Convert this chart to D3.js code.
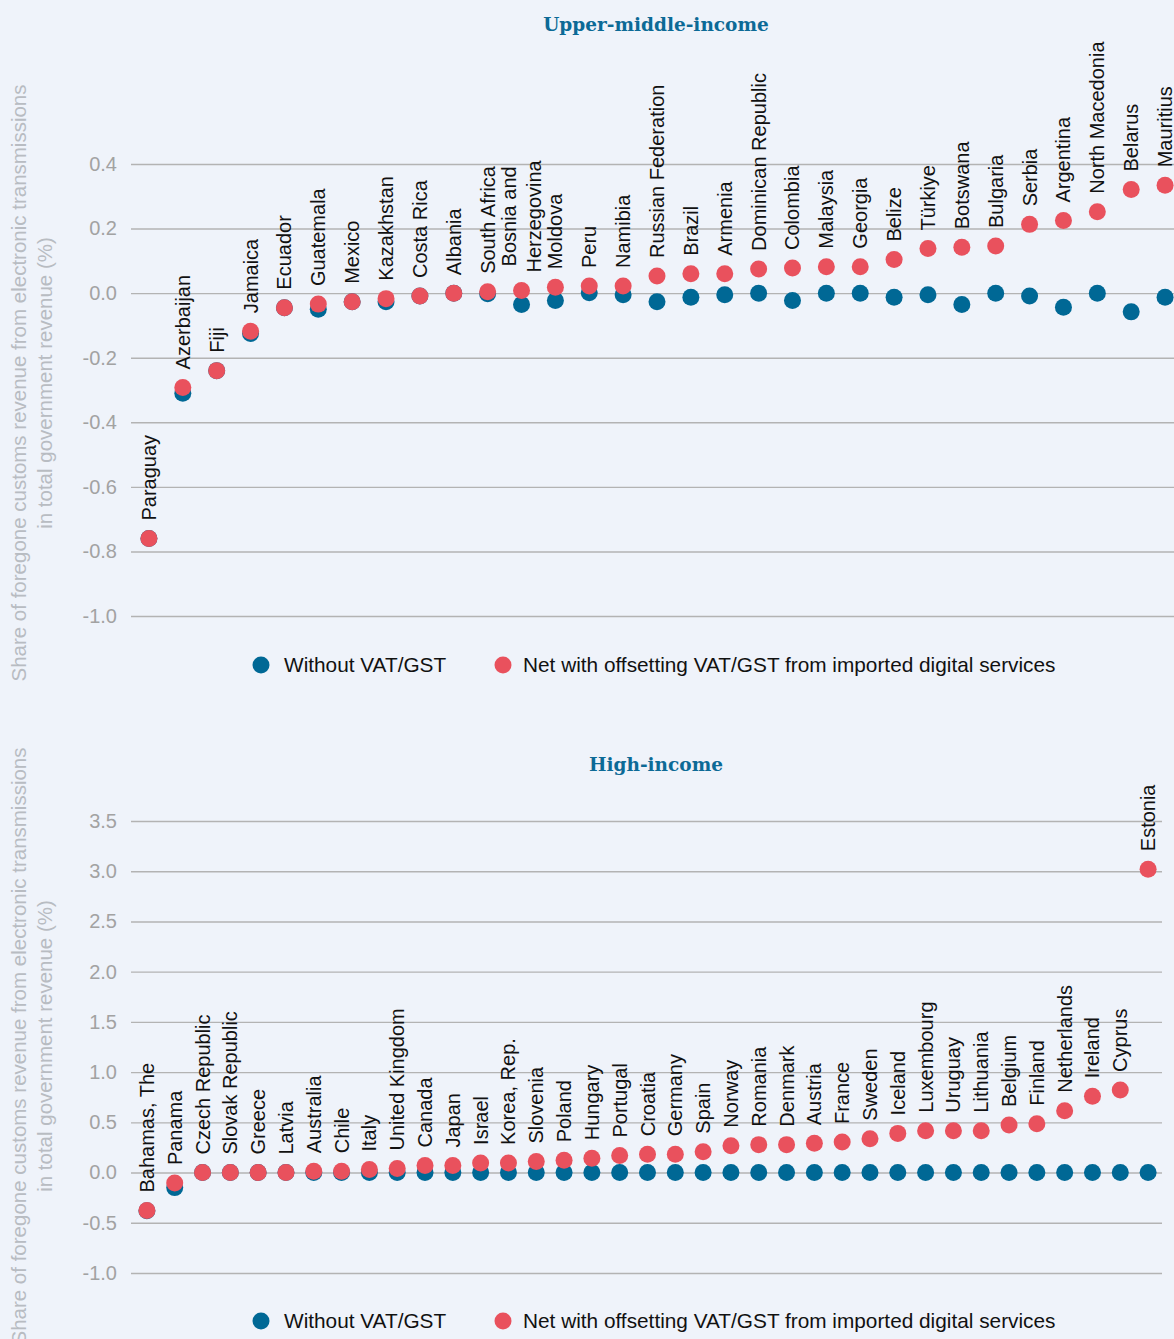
<!DOCTYPE html>
<html>
<head>
<meta charset="utf-8">
<script src="https://cdn.jsdelivr.net/npm/d3@7"></script>
<style>
  html, body { margin: 0; padding: 0; background: #eff3fa; }
  svg { display: block; }
  text { font-family: "Liberation Sans", Arial, Helvetica, sans-serif; }
</style>
</head>
<body>
<svg id="chart" width="1174" height="1339"></svg>
<script>
// ---------- DATA ----------
const umCountries = ["Paraguay","Azerbaijan","Fiji","Jamaica","Ecuador","Guatemala","Mexico","Kazakhstan","Costa Rica","Albania","South Africa","Bosnia and\nHerzegovina","Moldova","Peru","Namibia","Russian Federation","Brazil","Armenia","Dominican Republic","Colombia","Malaysia","Georgia","Belize","Türkiye","Botswana","Bulgaria","Serbia","Argentina","North Macedonia","Belarus","Mauritius"];
const umWithout = [-0.76,-0.31,-0.24,-0.125,-0.045,-0.05,-0.027,-0.027,-0.009,0,-0.002,-0.035,-0.023,0.001,-0.005,-0.027,-0.013,-0.005,0,-0.023,0,0,-0.013,-0.005,-0.035,0,-0.009,-0.044,0,-0.058,-0.013];
const umNet = [-0.76,-0.292,-0.24,-0.118,-0.045,-0.034,-0.027,-0.017,-0.009,0,0.004,0.008,0.018,0.022,0.022,0.053,0.06,0.06,0.075,0.078,0.082,0.082,0.104,0.138,0.142,0.146,0.213,0.225,0.252,0.321,0.334];
const umTicks = [-1.0,-0.8,-0.6,-0.4,-0.2,0.0,0.2,0.4];

const hiCountries = ["Bahamas, The","Panama","Czech Republic","Slovak Republic","Greece","Latvia","Australia","Chile","Italy","United Kingdom","Canada","Japan","Israel","Korea, Rep.","Slovenia","Poland","Hungary","Portugal","Croatia","Germany","Spain","Norway","Romania","Denmark","Austria","France","Sweden","Iceland","Luxembourg","Uruguay","Lithuania","Belgium","Finland","Netherlands","Ireland","Cyprus","Estonia"];
const hiWithout = [-0.38,-0.15,0,0,0,0,0,0,0,0,0,0,0,0,0,0,0,0,0,0,0,0,0,0,0,0,0,0,0,0,0,0,0,0,0,0,0];
const hiNet = [-0.378,-0.105,0,0,0,0,0.013,0.013,0.03,0.04,0.07,0.07,0.096,0.096,0.109,0.122,0.142,0.169,0.182,0.182,0.208,0.268,0.278,0.278,0.291,0.304,0.337,0.39,0.417,0.417,0.417,0.473,0.486,0.615,0.76,0.823,3.02];
const hiTicks = [-1.0,-0.5,0.0,0.5,1.0,1.5,2.0,2.5,3.0,3.5];

const panelTitles = ["Upper-middle-income","High-income"];
const seriesNames = ["Without VAT/GST","Net with offsetting VAT/GST from imported digital services"];
const yTitleLines = ["Share of foregone customs revenue from electronic transmissions","in total government revenue (%)"];

// ---------- STYLE ----------
const BLUE = "#006895", RED = "#e9515d", TITLE = "#0c6a96";
const GRID = "#b3b3b3", TICK = "#a2a2a2", YTITLE = "#b8bcc2";
const R = 8.5;

const svg = d3.select("#chart");
svg.append("rect").attr("width",1174).attr("height",1339).attr("fill","#eff3fa");

const fmt = d => d3.format(".1f")(d).replace("\u2212", "-");

function panel(cfg) {
  const g = svg.append("g");
  const x = d3.scalePoint().domain(cfg.countries).range(cfg.xRange).padding(0.5);
  const y = d3.scaleLinear().domain(cfg.yDomain).range(cfg.yRange);

  // title
  g.append("text").attr("x", 656).attr("y", cfg.titleY)
    .attr("text-anchor","middle")
    .style("font-family","'DejaVu Serif', 'Liberation Serif', serif")
    .style("font-weight","bold").style("font-size","18.5px")
    .attr("fill", TITLE).text(cfg.title);

  // y-axis title
  yTitleLines.forEach((line, i) => {
    g.append("text")
      .attr("transform", `translate(${i === 0 ? 19 : 45},${cfg.yTitleCenter}) rotate(-90)`)
      .attr("text-anchor","middle").attr("dy","0.35em")
      .style("font-size","20.5px").attr("fill", YTITLE).text(line);
  });

  // gridlines & tick labels
  const axis = d3.axisLeft(y).tickValues(cfg.ticks).tickFormat(fmt)
    .tickSize(-(cfg.gridEnd - cfg.gridStart)).tickPadding(14);
  const ag = g.append("g").attr("transform", `translate(${cfg.gridStart},0)`).call(axis);
  ag.select(".domain").remove();
  ag.selectAll(".tick line").attr("stroke", GRID).attr("stroke-width", 1.4);
  ag.selectAll(".tick text").style("font-size","20px")
    .style("font-family","'Liberation Sans', Arial, sans-serif").attr("fill", TICK);

  const data = cfg.countries.map((c, i) => ({c, w: cfg.without[i], n: cfg.net[i]}));

  // dots
  g.append("g").selectAll("circle").data(data).join("circle")
    .attr("cx", d => x(d.c)).attr("cy", d => y(d.w)).attr("r", R).attr("fill", BLUE);
  g.append("g").selectAll("circle").data(data).join("circle")
    .attr("cx", d => x(d.c)).attr("cy", d => y(d.n)).attr("r", R).attr("fill", RED);

  // labels
  const lg = g.append("g");
  data.forEach(d => {
    const top = y(Math.max(d.w, d.n)) - 18;
    const lines = d.c.split("\n");
    const t = lg.append("text").style("font-size","20px").attr("fill","#111");
    if (lines.length === 1) {
      t.attr("transform", `translate(${x(d.c)},${top}) rotate(-90)`)
        .attr("dy","0.35em").attr("text-anchor","start").text(d.c);
    } else {
      const spans = lines.map((ln, k) => t.append("tspan")
        .attr("x", 0).attr("y", (k - (lines.length - 1) / 2) * 25)
        .attr("dy","0.35em").text(ln));
      const maxLen = d3.max(spans, s => s.node().getComputedTextLength());
      t.attr("text-anchor","middle")
        .attr("transform", `translate(${x(d.c)},${top - maxLen / 2}) rotate(-90)`);
    }
  });

  // legend
  const leg = g.append("g").attr("transform", `translate(0,${cfg.legendY})`);
  [[261, 284, BLUE], [503, 523, RED]].forEach(([cx, tx, col], i) => {
    leg.append("circle").attr("cx", cx).attr("cy", 0).attr("r", R).attr("fill", col);
    leg.append("text").attr("x", tx).attr("y", 0).attr("dy","0.35em")
      .style("font-size","20.8px").attr("fill","#111").text(seriesNames[i]);
  });
}

panel({
  title: panelTitles[0], titleY: 31,
  countries: umCountries, without: umWithout, net: umNet, ticks: umTicks,
  xRange: [132, 1182], yDomain: [-1.0, 0.4], yRange: [616, 164],
  gridStart: 131, gridEnd: 1180, yTitleCenter: 383, legendY: 665
});
panel({
  title: panelTitles[1], titleY: 771,
  countries: hiCountries, without: hiWithout, net: hiNet, ticks: hiTicks,
  xRange: [133, 1162], yDomain: [-1.0, 3.5], yRange: [1273, 821],
  gridStart: 131, gridEnd: 1162, yTitleCenter: 1046, legendY: 1321
});
</script>
</body>
</html>
